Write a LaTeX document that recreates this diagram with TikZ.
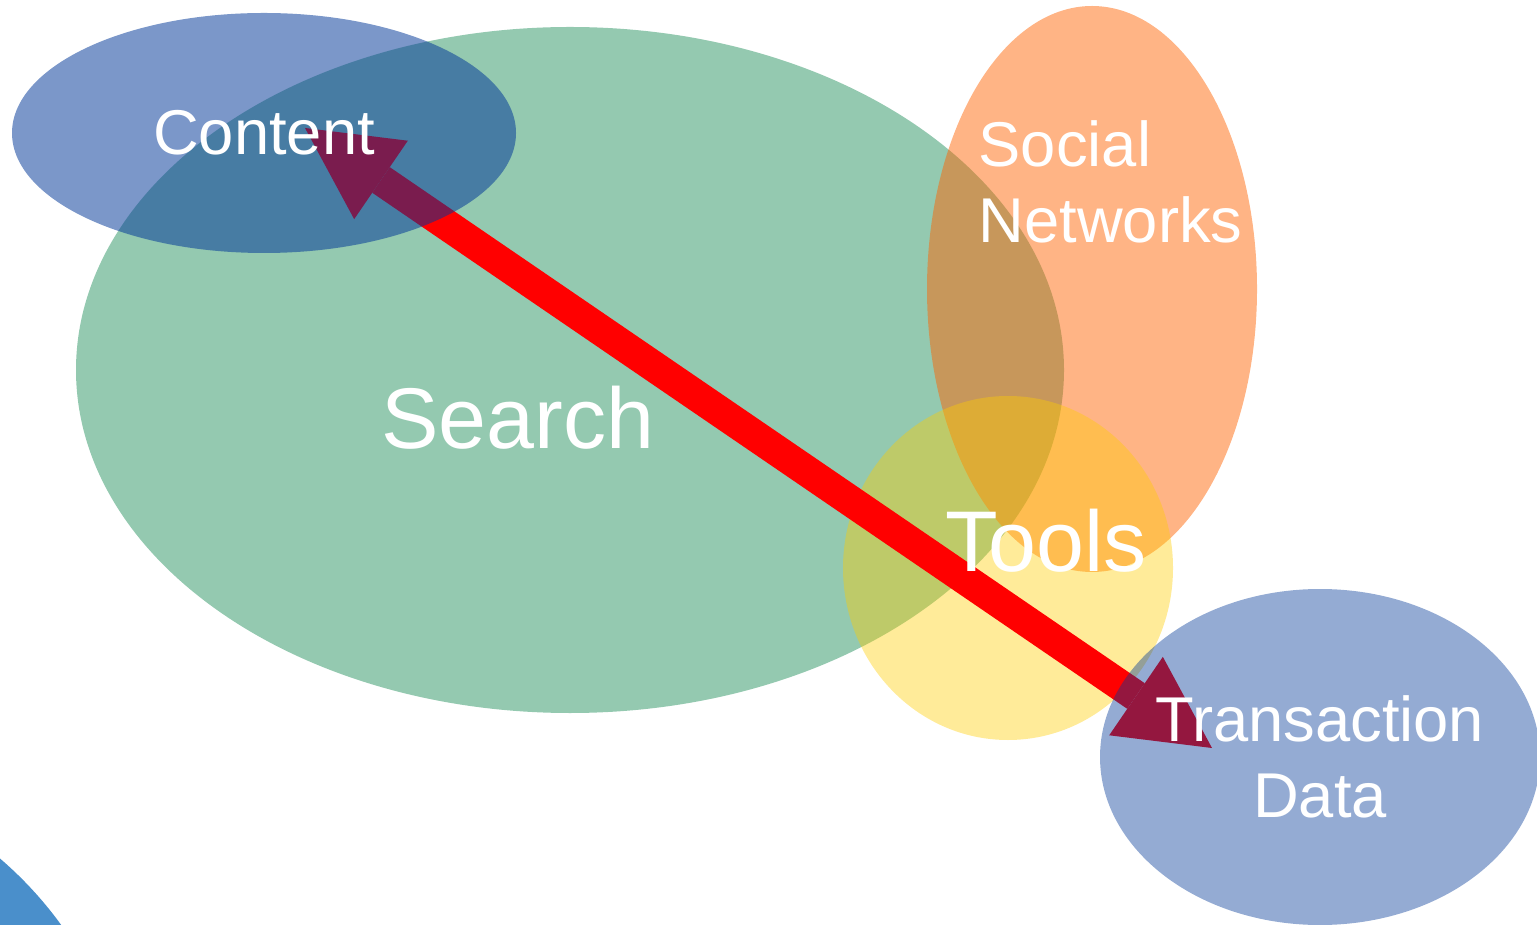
\documentclass[tikz,border=0pt]{standalone}
\usepackage{fontspec}
\setmainfont{Liberation Sans}           % largeurs d'Arial
\usepackage{tikz}
\usetikzlibrary{shapes.geometric,       % ellipses
           arrows.meta}                 % pointes de fleches
\definecolor{vertrecherche}{RGB}{41,147,97}
\definecolor{bleucontenu}{RGB}{1,55,151}
\definecolor{orangesocial}{RGB}{255,98,0}
\definecolor{jauneoutils}{RGB}{255,204,0}
\definecolor{bleucoin}{RGB}{74,143,203}

\begin{document}
\begin{tikzpicture}[x=0.01cm,y=-0.01cm,
    bulle/.style={ellipse,inner sep=0pt,fill=#1},
    petit/.style={text=white,inner sep=0pt,font=\fontsize{18}{21.6}\selectfont,align=center},
    grand/.style={text=white,inner sep=0pt,font=\fontsize{24.5}{29}\selectfont},
    fleche/.style={draw=red,line width=0.31cm,
        {Triangle[length=0.92cm,width=0.95cm,line width=0pt]}-{Triangle[length=0.92cm,width=0.95cm,line width=0pt]}}]
\useasboundingbox (0,0) rectangle (1537,925);
\fill[bleucoin] (-250,1150) circle (384);
\foreach \nom/\x/\y/\rx/\ry/\coul/\op in {search/570/370/494/343/vertrecherche/0.5,
        social/1092/289/165/283/orangesocial/0.48, tools/1008/568/165/172/jauneoutils/0.4}
    \node[bulle=\coul,fill opacity=\op,minimum width={2*\rx*0.01cm},minimum height={2*\ry*0.01cm}] (\nom) at (\x,\y) {};
\coordinate (pointeA) at (305,128);
\coordinate (pointeB) at (1212,748);
\draw[fleche] (pointeA) -- (pointeB);
\foreach \nom/\x/\y/\rx/\ry/\op in {content/264/133/252/120/0.52, transaction/1320/757/220/168/0.42}
    \node[bulle=bleucontenu,fill opacity=\op,minimum width={2*\rx*0.01cm},minimum height={2*\ry*0.01cm}] (\nom) at (\x,\y) {};
\node[petit] (lcontent) at (content) {Content};
\node[petit] (ltransaction) at (transaction) {Transaction\\Data};
\node[petit,align=left,anchor=west] (lsocial) at (978,182) {Social\\Networks};
\node[grand,anchor=base] (lsearch) at (518,449) {Search};
\node[grand,anchor=base] (ltools) at (1046,571) {Tools};
\end{tikzpicture}
\end{document}
